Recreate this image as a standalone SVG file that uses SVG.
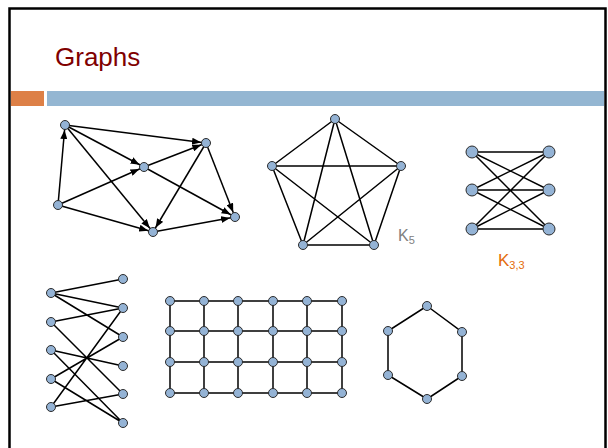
<svg xmlns="http://www.w3.org/2000/svg" width="608" height="448" viewBox="0 0 608 448">
<style>
.n{fill:#94B3D5;stroke:#2b2b2b;stroke-width:1}
.e{stroke:#000;stroke-width:1.5;fill:none}
.a{stroke:#000;stroke-width:1.5;fill:none;marker-end:url(#arr)}
</style>
<defs>
<marker id="arr" markerUnits="userSpaceOnUse" markerWidth="9" markerHeight="7" viewBox="0 0 9 7" refX="14" refY="3.5" orient="auto">
<path d="M0,0 L9,3.5 L0,7 z" fill="#000"/>
</marker>
</defs>
<rect width="608" height="448" fill="#fff"/>
<path d="M9.5 448 V8.5 H605.5 V448" fill="none" stroke="#000" stroke-width="2.5"/>
<g id="title"><text x="55" y="66" font-family="Liberation Sans, Arial, sans-serif" font-size="26" fill="#800000">Graphs</text></g>
<g id="bar">
<rect x="11" y="91" width="33" height="15" fill="#DD8047"/>
<rect x="47" y="91" width="557" height="15" fill="#94B6D2"/>
</g>
<g id="connectors">
<!-- directed graph -->
<line class="a" x1="65" y1="125" x2="206" y2="143"/>
<line class="a" x1="65" y1="125" x2="144" y2="167"/>
<line class="a" x1="65" y1="125" x2="153" y2="232"/>
<line class="a" x1="58" y1="205" x2="65" y2="125"/>
<line class="a" x1="58" y1="205" x2="144" y2="167"/>
<line class="a" x1="58" y1="205" x2="153" y2="232"/>
<line class="a" x1="144" y1="167" x2="206" y2="143"/>
<line class="a" x1="144" y1="167" x2="235" y2="217"/>
<line class="a" x1="206" y1="143" x2="153" y2="232"/>
<line class="a" x1="206" y1="143" x2="235" y2="217"/>
<line class="a" x1="153" y1="232" x2="235" y2="217"/>
<!-- K5 -->
<path class="e" d="M335 119 L272 166 M335 119 L401 166 M335 119 L303 245 M335 119 L374 245 M272 166 L401 166 M272 166 L303 245 M272 166 L374 245 M401 166 L303 245 M401 166 L374 245 M303 245 L374 245"/>
<!-- K3,3 -->
<path class="e" d="M472 152 L549 152 M472 152 L549 190 M472 152 L549 229 M472 190 L549 152 M472 190 L549 190 M472 190 L549 229 M472 229 L549 152 M472 229 L549 190 M472 229 L549 229"/>
<!-- bipartite -->
<path class="e" d="M51 293 L123 279 M51 293 L123 308 M51 293 L123 337 M51 322 L123 308 M51 322 L123 394 M51 350 L123 366 M51 350 L123 423 M51 379 L123 337 M51 379 L123 423 M51 407 L123 308 M51 407 L123 394"/>
<!-- grid -->
<path class="e" d="M170 301 H342 M170 331 H342 M170 362 H342 M170 393 H342 M170 301 V393 M204 301 V393 M238 301 V393 M273 301 V393 M307 301 V393 M342 301 V393"/>
<!-- hexagon -->
<path class="e" d="M427 306 L462 332 L462 376 L427 399 L388 375 L388 331 Z"/>
</g>
<g id="digraph">
<circle id="dA" class="n" cx="65" cy="125" r="4.5"/>
<circle id="dB" class="n" cx="206" cy="143" r="4.5"/>
<circle id="dC" class="n" cx="144" cy="167" r="4.5"/>
<circle id="dD" class="n" cx="58" cy="205" r="4.5"/>
<circle id="dE" class="n" cx="153" cy="232" r="4.5"/>
<circle id="dF" class="n" cx="235" cy="217" r="4.5"/>
</g>
<g id="k5">
<circle class="n" cx="335" cy="119" r="4.5"/>
<circle class="n" cx="272" cy="166" r="4.5"/>
<circle class="n" cx="401" cy="166" r="4.5"/>
<circle class="n" cx="303" cy="245" r="4.5"/>
<circle class="n" cx="374" cy="245" r="4.5"/>
<text x="398" y="241" font-family="Liberation Sans, Arial, sans-serif" font-size="16" fill="#808080">K<tspan font-size="11" dy="3">5</tspan></text>
</g>
<g id="k33">
<circle class="n" cx="472" cy="152" r="6"/>
<circle class="n" cx="472" cy="190" r="6"/>
<circle class="n" cx="472" cy="229" r="6"/>
<circle class="n" cx="549" cy="152" r="6"/>
<circle class="n" cx="549" cy="190" r="6"/>
<circle class="n" cx="549" cy="229" r="6"/>
<text x="498" y="266" font-family="Liberation Sans, Arial, sans-serif" font-size="17" fill="#E46C0A">K<tspan font-size="11" dy="3">3,3</tspan></text>
</g>
<g id="bipartite">
<circle class="n" cx="51" cy="293" r="4.5"/>
<circle class="n" cx="51" cy="322" r="4.5"/>
<circle class="n" cx="51" cy="350" r="4.5"/>
<circle class="n" cx="51" cy="379" r="4.5"/>
<circle class="n" cx="51" cy="407" r="4.5"/>
<circle class="n" cx="123" cy="279" r="4.5"/>
<circle class="n" cx="123" cy="308" r="4.5"/>
<circle class="n" cx="123" cy="337" r="4.5"/>
<circle class="n" cx="123" cy="366" r="4.5"/>
<circle class="n" cx="123" cy="394" r="4.5"/>
<circle class="n" cx="123" cy="423" r="4.5"/>
</g>
<g id="grid">
<circle class="n" cx="170" cy="301" r="4.5"/><circle class="n" cx="204" cy="301" r="4.5"/><circle class="n" cx="238" cy="301" r="4.5"/><circle class="n" cx="273" cy="301" r="4.5"/><circle class="n" cx="307" cy="301" r="4.5"/><circle class="n" cx="342" cy="301" r="4.5"/>
<circle class="n" cx="170" cy="331" r="4.5"/><circle class="n" cx="204" cy="331" r="4.5"/><circle class="n" cx="238" cy="331" r="4.5"/><circle class="n" cx="273" cy="331" r="4.5"/><circle class="n" cx="307" cy="331" r="4.5"/><circle class="n" cx="342" cy="331" r="4.5"/>
<circle class="n" cx="170" cy="362" r="4.5"/><circle class="n" cx="204" cy="362" r="4.5"/><circle class="n" cx="238" cy="362" r="4.5"/><circle class="n" cx="273" cy="362" r="4.5"/><circle class="n" cx="307" cy="362" r="4.5"/><circle class="n" cx="342" cy="362" r="4.5"/>
<circle class="n" cx="170" cy="393" r="4.5"/><circle class="n" cx="204" cy="393" r="4.5"/><circle class="n" cx="238" cy="393" r="4.5"/><circle class="n" cx="273" cy="393" r="4.5"/><circle class="n" cx="307" cy="393" r="4.5"/><circle class="n" cx="342" cy="393" r="4.5"/>
</g>
<g id="hexagon">
<circle class="n" cx="427" cy="306" r="4.5"/>
<circle class="n" cx="462" cy="332" r="4.5"/>
<circle class="n" cx="462" cy="376" r="4.5"/>
<circle class="n" cx="427" cy="399" r="4.5"/>
<circle class="n" cx="388" cy="375" r="4.5"/>
<circle class="n" cx="388" cy="331" r="4.5"/>
</g>
</svg>
